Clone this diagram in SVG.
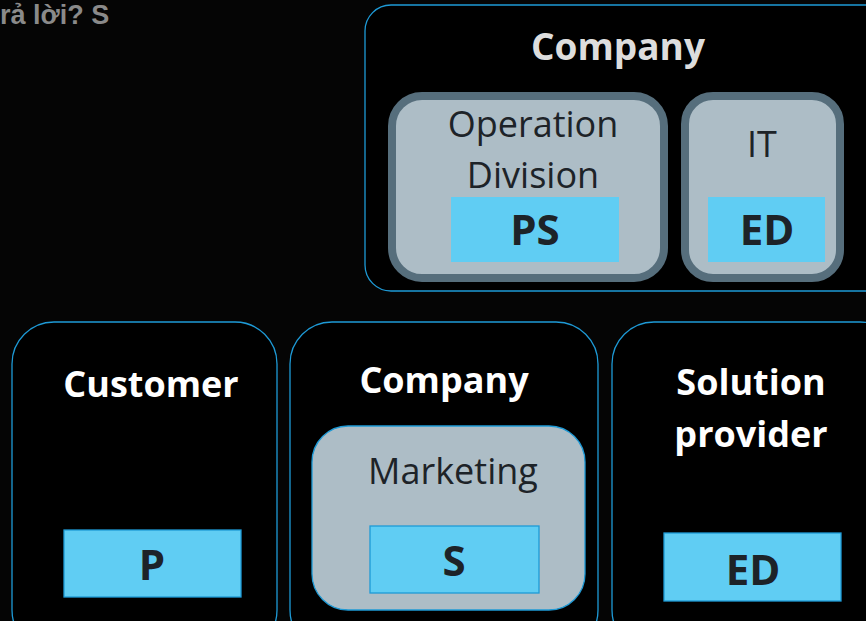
<svg xmlns="http://www.w3.org/2000/svg" width="866" height="621" viewBox="0 0 866 621">
<style>
.frame{fill:#000;stroke:#1e9ad6;stroke-width:1.3}
.grey{fill:#adbdc6}
.thick{stroke:#566e7c;stroke-width:8}
.thin{stroke:#1e9ad6;stroke-width:1.3}
.tag{fill:#60cdf3}
.tagb{fill:#60cdf3;stroke:#1e9ad6;stroke-width:1.3}
.t{font-family:"Open Sans","Noto Sans",sans-serif;text-anchor:middle}
.h{font-size:36px;font-weight:bold;fill:#fff}
.h2{font-size:37px;font-weight:bold;fill:#ddd}
.r{font-size:36px;fill:#1d2328}
.b{font-size:42px;font-weight:bold;fill:#1d2328}
</style>
<rect width="866" height="621" fill="#050505"/>
<text x="0" y="24" font-family="Liberation Sans,Arial,sans-serif" font-size="27" font-weight="bold" fill="#8a8a8a">rả lời? S</text>
<g id="company-top">
<rect class="frame" x="365" y="5" width="530" height="286" rx="26"/>
<text class="t h2" x="618" y="60">Company</text>
</g>
<g id="operation-division">
<rect class="grey thick" x="392" y="96" width="272" height="182" rx="30"/>
<text class="t r" x="533" y="137">Operation</text>
<text class="t r" x="533" y="188">Division</text>
</g>
<g id="ps">
<rect class="tag" x="451" y="197" width="168" height="65"/>
<text class="t b" x="535" y="245">PS</text>
</g>
<g id="it">
<rect class="grey thick" x="685" y="96" width="155" height="182" rx="28"/>
<text class="t r" x="762" y="157">IT</text>
</g>
<g id="ed-top">
<rect class="tag" x="708" y="197" width="117" height="65"/>
<text class="t b" x="767" y="245">ED</text>
</g>
<g id="customer">
<rect class="frame" x="12" y="322" width="265" height="330" rx="42"/>
<text class="t h" x="151" y="397">Customer</text>
</g>
<g id="p">
<rect class="tagb" x="64" y="530" width="177" height="67"/>
<text class="t b" x="152" y="580">P</text>
</g>
<g id="company-mid">
<rect class="frame" x="290" y="322" width="308" height="330" rx="42"/>
<text class="t h" x="444" y="393">Company</text>
</g>
<g id="marketing">
<rect class="grey thin" x="312" y="426" width="273" height="184" rx="36"/>
<text class="t r" x="453" y="484">Marketing</text>
</g>
<g id="s">
<rect class="tagb" x="370" y="526" width="169" height="67"/>
<text class="t b" x="454" y="576">S</text>
</g>
<g id="solution-provider">
<rect class="frame" x="612" y="322" width="290" height="330" rx="42"/>
<text class="t h" x="751" y="395">Solution</text>
<text class="t h" x="751" y="447">provider</text>
</g>
<g id="ed-bottom">
<rect class="tagb" x="664" y="533" width="177" height="68"/>
<text class="t b" x="753" y="585">ED</text>
</g>
<g id="connectors"></g>
</svg>
